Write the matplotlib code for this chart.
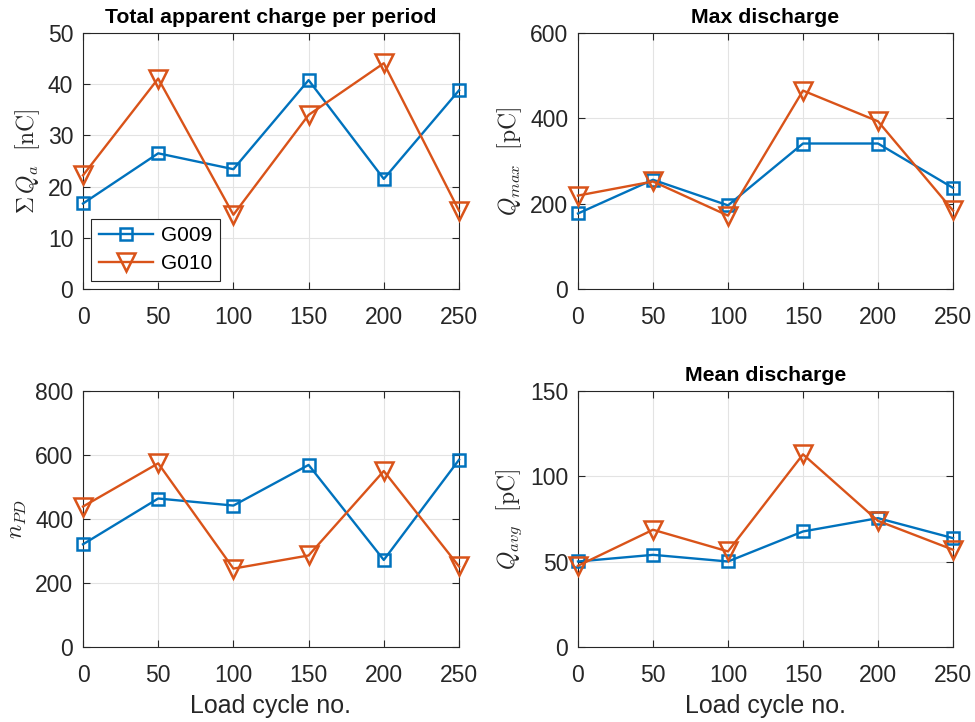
import matplotlib
matplotlib.use("Agg")
import matplotlib.pyplot as plt

plt.rcParams['font.family'] = ['Liberation Sans', 'DejaVu Sans']
plt.rcParams['mathtext.fontset'] = 'cm'

cycles = [0, 50, 100, 150, 200, 250]
series_names = ["G009", "G010"]

total_g009 = [16.7, 26.5, 23.4, 40.8, 21.5, 38.8]
total_g010 = [22.2, 41.1, 14.5, 34.0, 44.1, 15.3]

qmax_g009 = [177, 256, 196, 341, 341, 237]
qmax_g010 = [219, 252, 172, 465, 393, 184]

npd_g009 = [321, 464, 442, 569, 272, 585]
npd_g010 = [439, 574, 245, 286, 550, 252]

qavg_g009 = [50.1, 54.0, 50.1, 67.7, 75.5, 63.8]
qavg_g010 = [47.6, 68.7, 56.0, 112.9, 73.9, 57.0]

blue = '#0072BD'
orange = '#D95319'
dark = '#262626'

fig = plt.figure(figsize=(9.75, 7.22), dpi=100)
W, H = 975, 722

def make_ax(x0, y0, x1, y1):
    return fig.add_axes([x0 / W, 1 - y1 / H, (x1 - x0) / W, (y1 - y0) / H])

axes = [
    make_ax(83, 33, 459, 289),
    make_ax(578, 33, 953, 289),
    make_ax(83, 391, 459, 647),
    make_ax(578, 391, 953, 647),
]

data = [
    (total_g009, total_g010, (0, 50), [0, 10, 20, 30, 40, 50], r'$\Sigma\, Q_a\ \ [\mathrm{nC}]$', 'Total apparent charge per period'),
    (qmax_g009, qmax_g010, (0, 600), [0, 200, 400, 600], r'$Q_{max}\ \ [\mathrm{pC}]$', 'Max discharge'),
    (npd_g009, npd_g010, (0, 800), [0, 200, 400, 600, 800], r'$n_{PD}$', None),
    (qavg_g009, qavg_g010, (0, 150), [0, 50, 100, 150], r'$Q_{avg}\ \ [\mathrm{pC}]$', 'Mean discharge'),
]

for i, (ax, (s1, s2, ylim, yt, ylab, title)) in enumerate(zip(axes, data)):
    ax.plot(cycles, s1, color=blue, lw=1.7, marker='s', ms=8.5, mfc='none', mew=1.8,
            label=series_names[0], zorder=3, clip_on=False)
    ax.plot(cycles, s2, color=orange, lw=1.7, marker='v', ms=13, mfc='none', mew=1.8,
            label=series_names[1], zorder=3, clip_on=False)
    ax.set_xlim(0, 250)
    ax.set_ylim(*ylim)
    ax.set_xticks(cycles)
    ax.set_yticks(yt)
    ax.grid(True, color='#e3e3e3', lw=0.8)
    ax.set_axisbelow(True)
    ax.tick_params(direction='in', top=True, right=True, labelsize=16.5, colors=dark, length=5, width=0.8)
    ax.tick_params(axis='x', pad=12)
    ax.tick_params(axis='y', pad=7)
    for sp in ax.spines.values():
        sp.set_color(dark)
        sp.set_linewidth(0.8)
    ax.set_ylabel(ylab, fontsize=17, color=dark, labelpad=4)
    if title:
        ax.set_title(title, fontsize=15.3, fontweight='bold', pad=7)
    if i >= 2:
        ax.set_xlabel('Load cycle no.', fontsize=18, color=dark, labelpad=5)
    if i == 0:
        leg = ax.legend(loc='lower left', fontsize=15, fancybox=False, framealpha=1, edgecolor=dark,
                        handlelength=2.6, borderaxespad=0.4, borderpad=0.35, labelspacing=0.45,
                        handletextpad=0.4)
        leg.get_frame().set_linewidth(0.8)

fig.savefig('out.png', dpi=100)
